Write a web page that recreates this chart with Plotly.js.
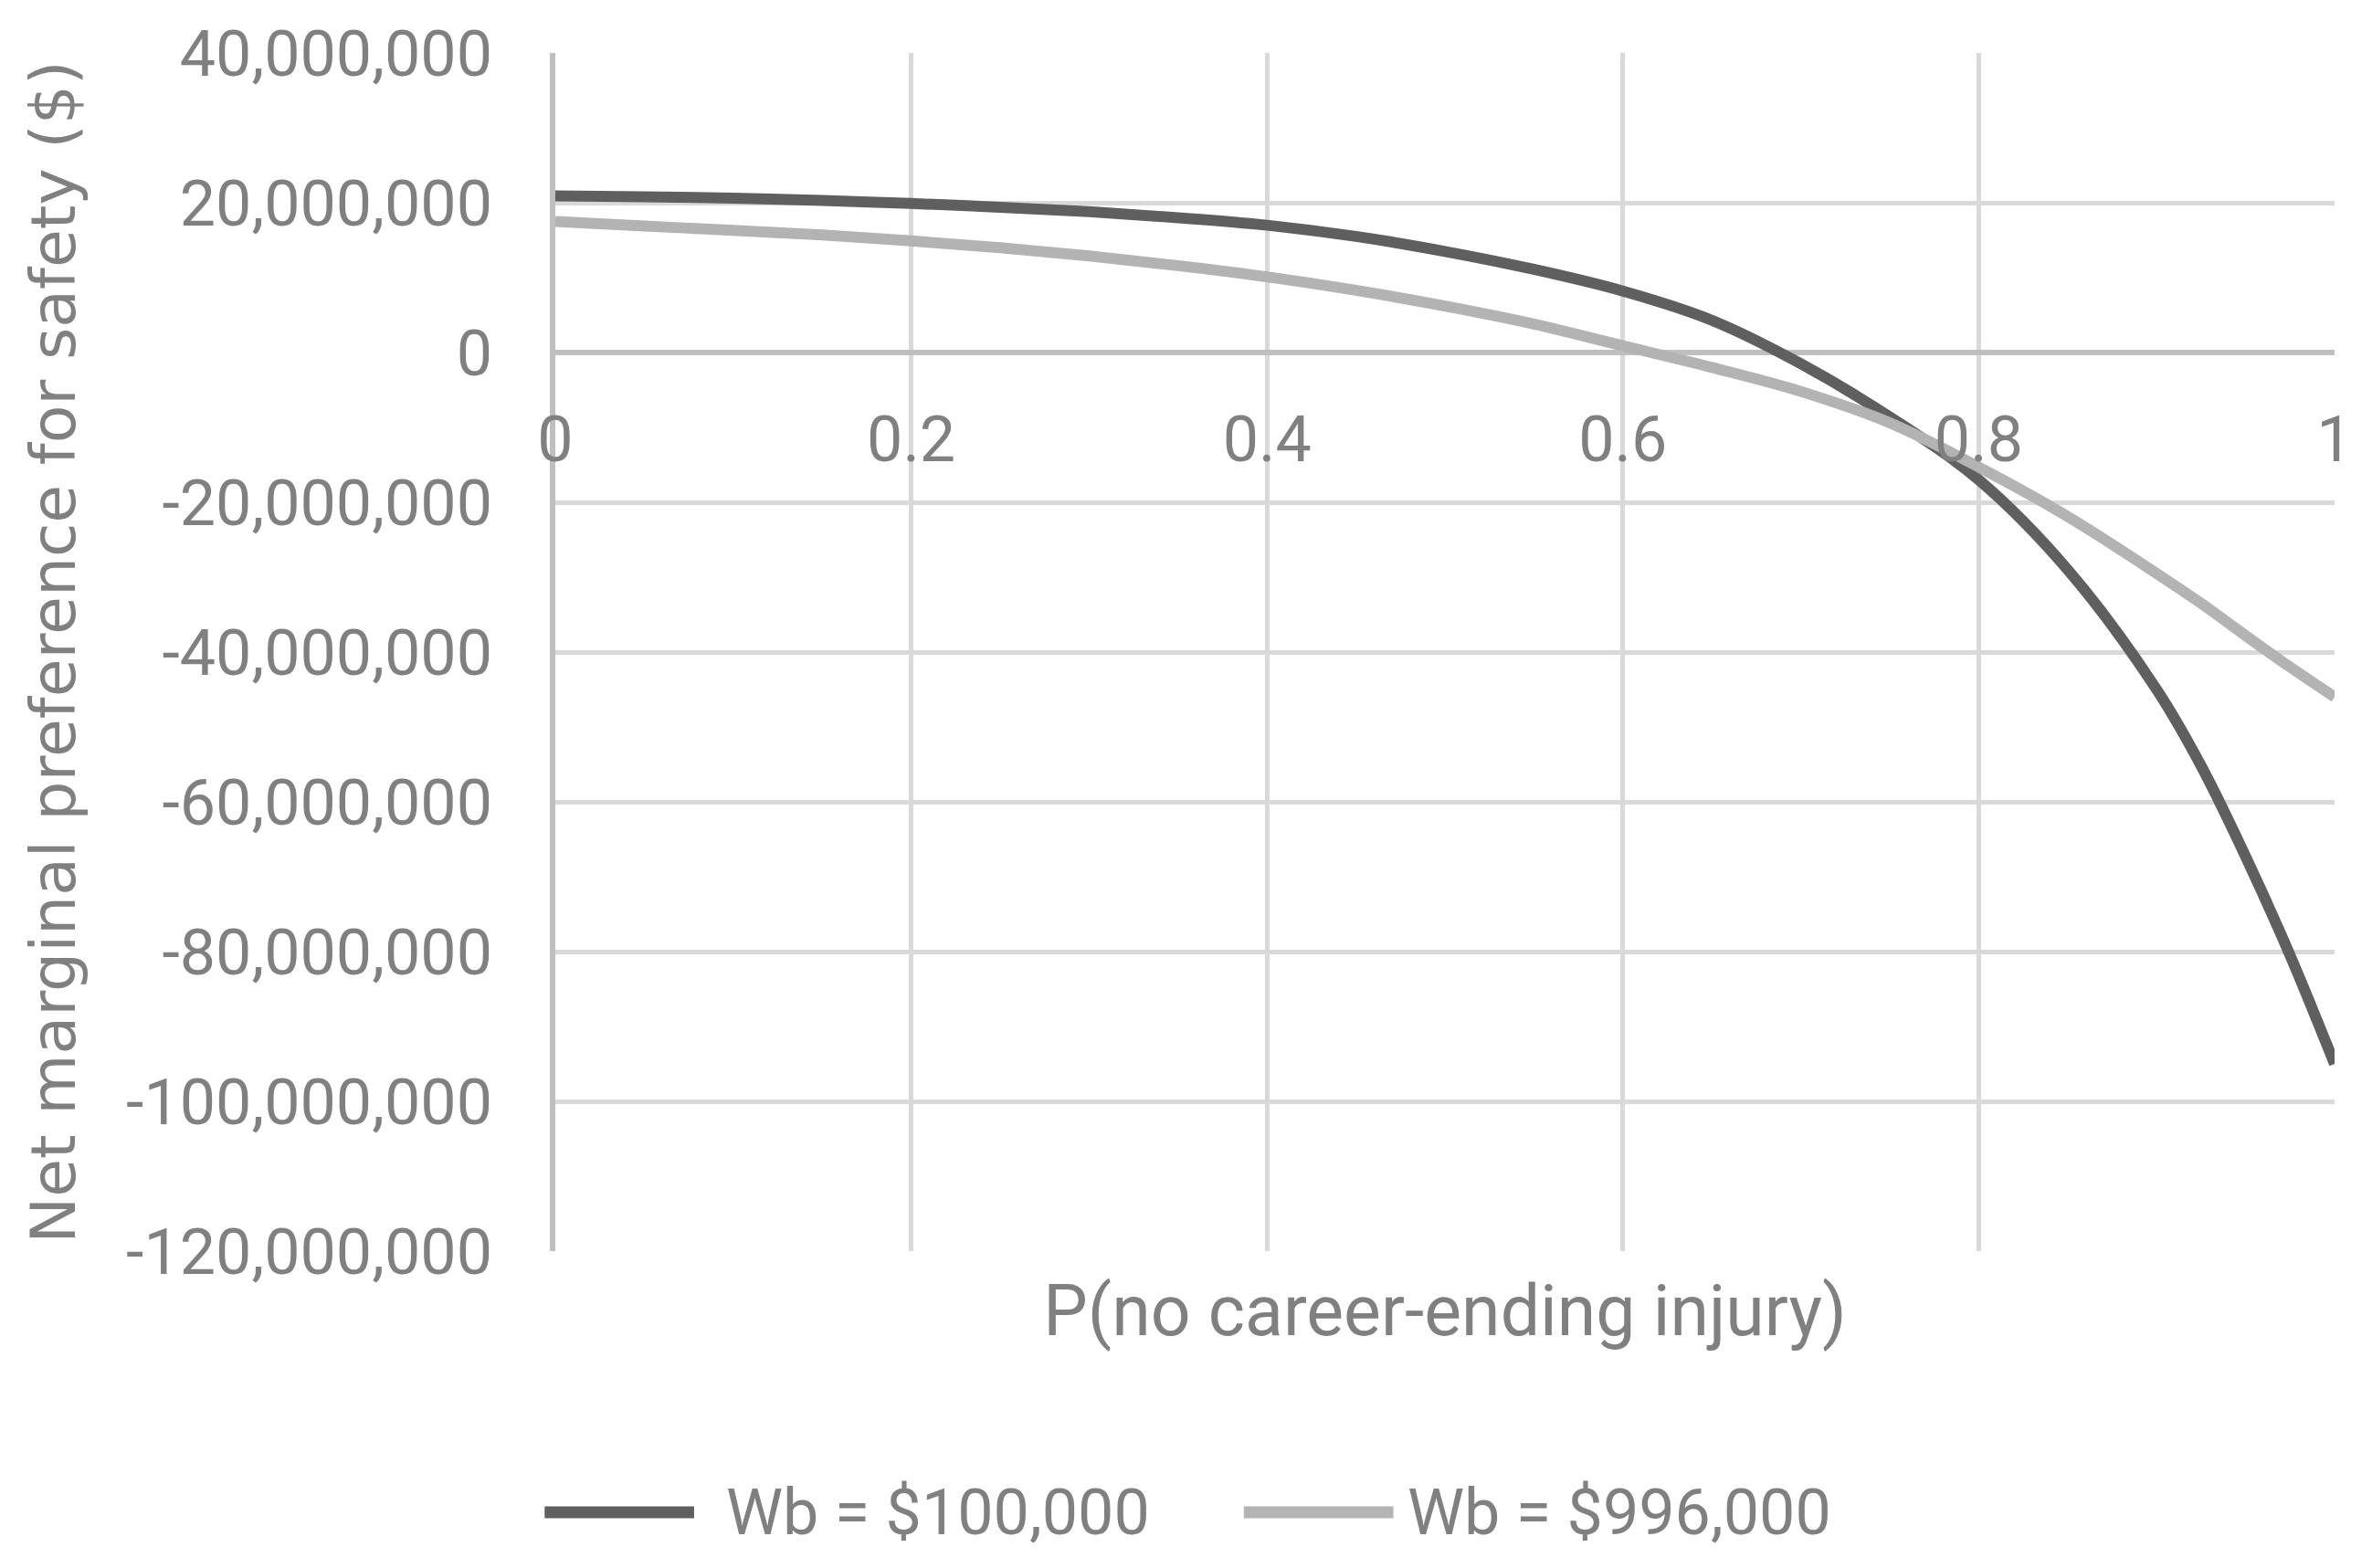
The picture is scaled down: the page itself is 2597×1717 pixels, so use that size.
<!DOCTYPE html>
<html>
<head>
<meta charset="utf-8">
<script src="https://cdn.plot.ly/plotly-3.0.1.min.js"></script>
<style>
  html, body { margin: 0; padding: 0; background: #ffffff; }
  #mainChart { width: 2597px; height: 1717px; }
</style>
</head>
<body>
<div id="mainChart"></div>
<script>
// P(no career-ending injury)
var pNoInjury = [0, 0.05, 0.1, 0.15, 0.2, 0.25, 0.3, 0.35, 0.4, 0.45, 0.5, 0.55, 0.6, 0.65, 0.7, 0.75, 0.8, 0.85, 0.9, 0.925, 0.95, 0.975, 1];

// net marginal preference for safety, millions of $
var wb100k = [20.9, 20.8, 20.6, 20.3, 19.9, 19.4, 18.8, 18.0, 17.0, 15.5, 13.5, 11.1, 8.2, 4.3, -1.5, -8.6, -17.0, -29.0, -45.0, -55.2, -67.3, -80.5, -95.0];
var wb996k = [17.5, 16.9, 16.3, 15.7, 14.9, 14.0, 12.9, 11.6, 10.1, 8.3, 6.2, 3.8, 0.9, -2.0, -5.2, -9.4, -15.3, -21.9, -29.5, -33.5, -37.8, -42.0, -46.0];

var seriesNames = ["Wb = $100,000", "Wb = $996,000"];
var seriesColors = ["#5f5f5f", "#b3b3b3"];

var xTickVals = [0, 0.2, 0.4, 0.6, 0.8, 1];
var xTickText = ["0", "0.2", "0.4", "0.6", "0.8", "1"];
var yTickVals = [40e6, 20e6, 0, -20e6, -40e6, -60e6, -80e6, -100e6, -120e6];
var yTickText = ["40,000,000", "20,000,000", "0", "-20,000,000", "-40,000,000", "-60,000,000", "-80,000,000", "-100,000,000", "-120,000,000"];

function toDollars(arr) {
  return arr.map(function (v) { return v * 1e6; });
}

var textGray = "#808080";
var tickFont = { family: "Roboto, sans-serif", size: 70, color: textGray };

var traces = [wb100k, wb996k].map(function (vals, i) {
  return {
    x: pNoInjury,
    y: toDollars(vals),
    name: seriesNames[i],
    type: "scatter",
    mode: "lines",
    line: { color: seriesColors[i], width: 12, shape: "spline", smoothing: 1 },
    hoverinfo: "skip",
  };
});

// legend drawn by hand so the line samples are long like the original
var legendY = -0.218;
var legendShapes = [];
var legendNotes = [];
var legendX = [[-0.006, 0.078, 0.095], [0.387, 0.471, 0.478]];
seriesNames.forEach(function (name, i) {
  legendShapes.push({
    type: "line", xref: "paper", yref: "paper",
    x0: legendX[i][0], x1: legendX[i][1], y0: legendY, y1: legendY,
    line: { color: seriesColors[i], width: 13 },
  });
  legendNotes.push({
    xref: "paper", yref: "paper", x: legendX[i][2], y: legendY,
    xanchor: "left", yanchor: "middle", showarrow: false,
    text: name, font: { family: "Roboto, sans-serif", size: 70, color: textGray },
  });
});

var layout = {
  width: 2597,
  height: 1717,
  margin: { l: 608, r: 41, t: 58, b: 347 },
  paper_bgcolor: "#ffffff",
  plot_bgcolor: "#ffffff",
  showlegend: false,
  xaxis: {
    range: [0, 1],
    tickvals: xTickVals,
    showticklabels: false,
    showgrid: true,
    gridcolor: "#d9d9d9",
    gridwidth: 5,
    zeroline: false,
    showline: false,
    ticks: "",
    title: {
      text: "P(no career-ending injury)",
      font: { family: "Roboto, sans-serif", size: 77, color: textGray },
      standoff: 38,
    },
  },
  xaxis2: {
    overlaying: "x",
    anchor: "free",
    position: 0.75,
    range: [0, 1],
    tickvals: xTickVals,
    ticktext: xTickText,
    tickfont: tickFont,
    showgrid: false,
    zeroline: false,
    showline: false,
    ticks: "",
    ticklabelstandoff: 48,
  },
  yaxis: {
    range: [-120e6, 40e6],
    tickvals: yTickVals,
    ticktext: yTickText,
    tickfont: tickFont,
    showgrid: true,
    gridcolor: "#d9d9d9",
    gridwidth: 5,
    zeroline: true,
    zerolinecolor: "#bfbfbf",
    zerolinewidth: 6,
    showline: true,
    linecolor: "#bfbfbf",
    linewidth: 6,
    ticks: "",
    ticklabelstandoff: 49,
    title: {
      text: "Net marginal preference for safety ($)",
      font: { family: "DejaVu Sans, sans-serif", size: 68, color: textGray },
      standoff: 35,
    },
  },
  shapes: legendShapes,
  annotations: legendNotes,
};

// invisible trace keeps xaxis2 alive
traces.push({ x: [0, 1], y: [0, 0], xaxis: "x2", yaxis: "y", mode: "lines", line: { width: 0 }, hoverinfo: "skip", showlegend: false });

Plotly.newPlot("mainChart", traces, layout, { staticPlot: true });
</script>
</body>
</html>
